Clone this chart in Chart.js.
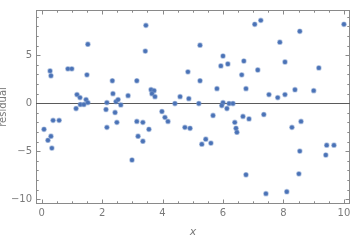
<!DOCTYPE html>
<html>
<head>
<meta charset="utf-8">
<script src="https://cdn.jsdelivr.net/npm/chart.js@4.4.1/dist/chart.umd.min.js"></script>
<style>
  html, body { margin: 0; padding: 0; background: #fff; overflow: hidden; }
  canvas { display: block; }
</style>
</head>
<body>
<canvas id="resid" width="360" height="240"></canvas>
<script>
// residual scatter, values
const xs = [
  0.28, 0.31, 0.87, 1.00, 1.53, 1.50, 1.17, 1.27, 1.14, 1.28,
  1.40, 1.47, 1.53, 2.34, 2.36, 2.13, 2.16, 2.43, 2.46, 2.53,
  2.62, 2.86, 3.15, 3.43, 3.45, 3.62, 3.72, 3.65, 3.75, 3.98,
  4.08, 4.41, 4.58, 4.84, 4.87, 5.20, 5.24, 5.24, 5.67, 5.80,
  5.93, 6.00, 6.00, 5.96, 6.16, 6.13, 6.20, 6.33, 6.66, 6.62,
  6.69, 6.76, 6.86, 7.05, 7.25, 7.15, 7.35, 7.52, 7.81, 7.88,
  8.05, 8.05, 8.38, 8.54, 9.00, 9.17, 10.0, 0.08, 0.21, 0.31,
  0.34, 0.38, 0.58, 2.16, 2.49, 2.99, 3.15, 3.19, 3.35, 3.35,
  3.55, 4.18, 4.74, 4.91, 5.43, 5.30, 5.60, 6.39, 6.43, 6.46,
  6.76, 7.42, 8.11, 8.28, 8.58, 8.54, 8.51, 9.43, 9.67, 9.40
];
const residuals = [
  3.36, 2.85, 3.57, 3.57, 6.14, 2.95, 0.89, 0.58, -0.56, -0.14,
  -0.14, 0.37, 0.06, 2.33, 0.99, -0.66, 0.06, -0.97, 0.16, 0.37,
  -0.18, 0.78, 2.33, 5.42, 8.10, 1.40, 1.30, 0.99, 0.68, -0.87,
  -1.48, -0.04, 0.68, 3.26, 0.47, -0.04, 2.33, 6.04, -1.28, 1.51,
  3.88, 4.91, 0.06, -0.25, 4.08, -0.56, -0.04, -0.04, -1.38, 2.95,
  4.39, 1.51, -1.64, 8.21, 8.62, 3.46, -1.18, 0.89, 0.58, 6.35,
  4.29, 0.89, 1.40, 7.48, 1.30, 3.67, 8.21, -2.72, -3.86, -3.44,
  -4.68, -1.79, -1.79, -2.52, -2.00, -5.92, -1.90, -3.44, -2.00, -3.96,
  -2.72, -1.90, -2.52, -2.62, -3.75, -4.27, -4.16, -2.00, -2.62, -3.03,
  -7.46, -9.42, -9.22, -2.52, -1.90, -4.99, -7.36, -4.37, -4.37, -5.40
];
const xTicks = [0, 2, 4, 6, 8, 10];
const yTicks = [-10, -5, 0, 5];

const points = xs.map((x, i) => ({x: x, y: residuals[i]}));
const labelFont = {family: 'DejaVu Sans', size: 10};
const grey = '#7a7a7a';

// frame with inward ticks + zero line, Mathematica style
const framePlugin = {
  id: 'frame',
  beforeDatasetsDraw(chart) {
    const {ctx, chartArea: a, scales: {x, y}} = chart;
    ctx.save();
    ctx.strokeStyle = '#8a8a8a';
    ctx.lineWidth = 1;
    ctx.strokeRect(a.left + 0.5, a.top + 0.5, a.right - a.left - 1, a.bottom - a.top - 1);

    ctx.beginPath();
    for (let v = 0; v <= 10.001; v += 0.5) {
      const px = Math.round(x.getPixelForValue(v)) + 0.5;
      const len = xTicks.includes(v) ? 4.5 : 2.7;
      ctx.moveTo(px, a.bottom); ctx.lineTo(px, a.bottom - len);
      ctx.moveTo(px, a.top); ctx.lineTo(px, a.top + len);
    }
    for (let v = -10; v <= 9; v += 1) {
      const py = Math.round(y.getPixelForValue(v)) + 0.5;
      const len = yTicks.includes(v) ? 4.5 : 2.7;
      ctx.moveTo(a.left, py); ctx.lineTo(a.left + len, py);
      ctx.moveTo(a.right, py); ctx.lineTo(a.right - len, py);
    }
    ctx.stroke();

    // zero line
    const y0 = Math.round(y.getPixelForValue(0)) + 0.5;
    ctx.strokeStyle = '#5a5a5a';
    ctx.lineWidth = 1.2;
    ctx.beginPath();
    ctx.moveTo(a.left, y0); ctx.lineTo(a.right, y0);
    ctx.stroke();
    ctx.restore();
  }
};

new Chart(document.getElementById('resid'), {
  type: 'scatter',
  data: {
    datasets: [{
      label: 'residual',
      data: points,
      pointRadius: 2.2,
      pointBackgroundColor: '#4a72b6',
      pointBorderColor: 'rgba(110,145,200,0.45)',
      pointBorderWidth: 1.3
    }]
  },
  options: {
    responsive: false,
    animation: false,
    devicePixelRatio: 1,
    layout: {padding: {top: 9, right: 10, left: 0, bottom: 0}},
    plugins: {legend: {display: false}, tooltip: {enabled: false}},
    scales: {
      x: {
        type: 'linear',
        min: -0.185,
        max: 10.2,
        grid: {display: false, drawTicks: false},
        border: {display: false},
        afterBuildTicks: s => { s.ticks = xTicks.map(v => ({value: v})); },
        afterFit: s => { s.height = 36; },
        ticks: {padding: 3, color: grey, font: labelFont, maxRotation: 0,
                callback: v => String(v)},
        title: {display: true, text: 'x', color: grey, padding: {top: 0, bottom: 1.5},
                font: {family: 'DejaVu Sans', size: 11, style: 'italic'}}
      },
      y: {
        type: 'linear',
        min: -10.5,
        max: 9.7,
        grid: {display: false, drawTicks: false},
        border: {display: false},
        afterBuildTicks: s => { s.ticks = yTicks.map(v => ({value: v})); },
        afterFit: s => { s.width = 36; },
        ticks: {padding: 4, color: grey, font: labelFont,
                callback: v => v < 0 ? '\u2212' + Math.abs(v) : String(v)},
        title: {display: true, text: 'residual', color: grey, padding: {top: -3, bottom: 0},
                font: {family: 'DejaVu Sans', size: 10}}
      }
    }
  },
  plugins: [framePlugin]
});
</script>
</body>
</html>
